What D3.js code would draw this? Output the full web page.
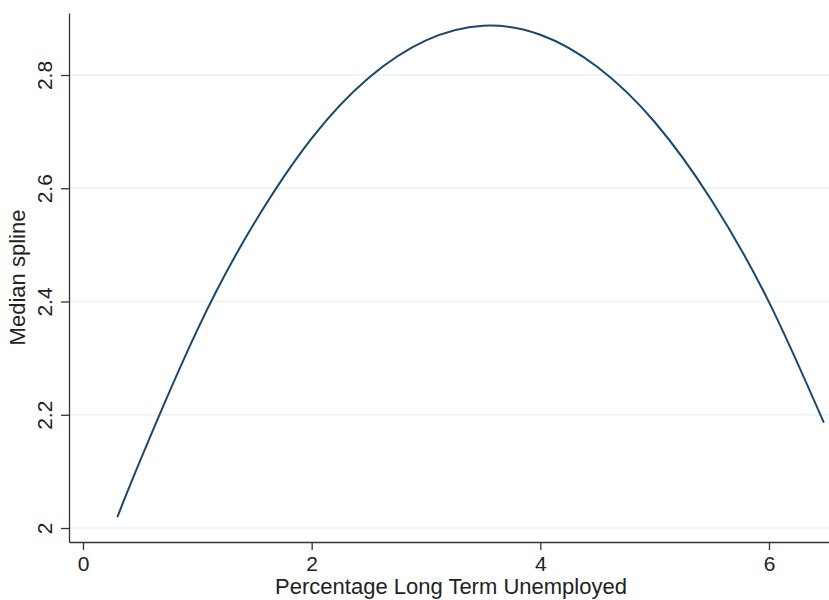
<!DOCTYPE html>
<html>
<head>
<meta charset="utf-8">
<script src="https://cdn.jsdelivr.net/npm/d3@7"></script>
<style>
body { margin: 0; background: #fff; }
text { font-family: "Liberation Sans", Arial, Helvetica, sans-serif; fill: #222; }
</style>
</head>
<body>
<script>
// spline values
const xVals = [0.30, 0.50, 1.00, 1.50, 2.00, 2.50, 3.00, 3.50, 4.00, 4.50, 5.00, 5.50, 6.00, 6.48];
const yVals = [2.019, 2.119, 2.350, 2.539, 2.688, 2.795, 2.861, 2.887, 2.871, 2.814, 2.717, 2.578, 2.399, 2.186];
const xTicks = [0, 2, 4, 6];
const yTicks = [2, 2.2, 2.4, 2.6, 2.8];

function draw() {
const width = 829;
const height = 600;

const svg = d3.select("body")
	.append("svg")
	.attr("width", width)
	.attr("height", height);

const x = d3.scaleLinear().domain([-0.1225, 6.525]).range([69, 829]);
const y = d3.scaleLinear().domain([1.9753, 2.9095]).range([542, 13]);

// grid lines
svg.append("g")
	.selectAll("line")
	.data(yTicks)
	.enter()
	.append("line")
	.attr("x1", 69)
	.attr("x2", 829)
	.attr("y1", d => y(d))
	.attr("y2", d => y(d))
	.attr("stroke", "#eaf2f3")
	.attr("stroke-width", 1.5);

const points = xVals.map((d, i) => [d, yVals[i]]);

const line = d3.line()
	.x(d => x(d[0]))
	.y(d => y(d[1]))
	.curve(d3.curveNatural);

svg.append("path")
	.datum(points)
	.attr("d", line)
	.attr("fill", "none")
	.attr("stroke", "#1a476f")
	.attr("stroke-width", 2);

// x axis
const xAxis = svg.append("g")
	.attr("transform", "translate(0,542)")
	.call(d3.axisBottom(x).tickValues(xTicks).tickFormat(d3.format("d")).tickSize(8).tickSizeOuter(0));
xAxis.selectAll("text")
	.attr("y", 28.5)
	.attr("dy", 0)
	.style("font-size", "21px");

// y axis
const yAxis = svg.append("g")
	.attr("transform", "translate(69,0)")
	.call(d3.axisLeft(y).tickValues(yTicks).tickFormat(d => d === 2 ? "2" : d3.format(".1f")(d)).tickSize(8).tickSizeOuter(0));
yAxis.selectAll("text")
	.attr("transform", "rotate(-90)")
	.attr("x", 0)
	.attr("y", -17.5)
	.attr("dy", 0)
	.attr("text-anchor", "middle")
	.style("font-size", "21px");

svg.selectAll(".domain, .tick line")
	.attr("stroke", "#333")
	.attr("stroke-width", 1.3);
svg.selectAll(".tick text").attr("fill", "#222").attr("font-family", null);

// axis titles
svg.append("text")
	.attr("x", 451)
	.attr("y", 594)
	.attr("text-anchor", "middle")
	.style("font-size", "22px")
	.text("Percentage Long Term Unemployed");

svg.append("text")
	.attr("transform", "translate(25,277.5) rotate(-90)")
	.attr("text-anchor", "middle")
	.style("font-size", "22px")
	.text("Median spline");
}
window.onload = draw;
</script>
</body>
</html>
